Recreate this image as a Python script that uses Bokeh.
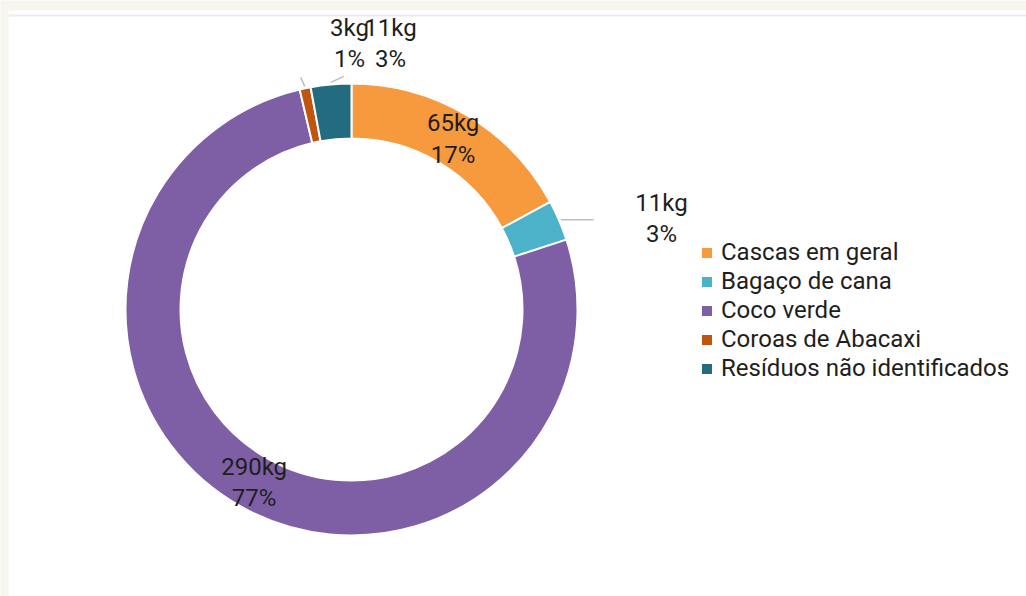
import numpy as np
from bokeh.plotting import figure
from bokeh.models import ColumnDataSource, Legend, LegendItem, Range1d
from bokeh.core.properties import value
from bokeh.embed import file_html
from bokeh.resources import INLINE

# ---- data ----
categories = ["Cascas em geral", "Bagaço de cana", "Coco verde",
              "Coroas de Abacaxi", "Resíduos não identificados"]
kg = [65, 11, 290, 3, 11]
kg_labels = ["65kg", "11kg", "290kg", "3kg", "11kg"]
pct_labels = ["17%", "3%", "77%", "1%", "3%"]
colors = ["#F79A3E", "#4BB2CA", "#7E5FA6", "#BF550F", "#236C80"]

W, H = 1026, 596
FONT = "Roboto"
FS = "24px"
TXT = "#1E1E1E"

def Y(y):  # image-style y (from top) to data y
    return H - y

cx, cy = 351, Y(309)
R_OUT, R_IN = 226, 171

vals = np.array(kg, dtype=float)
frac = vals / vals.sum()
cum = np.concatenate([[0], np.cumsum(frac)])
start = np.pi / 2 - 2 * np.pi * cum[:-1]
end = np.pi / 2 - 2 * np.pi * cum[1:]
mid = (start + end) / 2

p = figure(width=W, height=H, x_range=Range1d(0, W), y_range=Range1d(0, H),
           output_backend="svg", toolbar_location=None,
           x_axis_location=None, y_axis_location=None, min_border=0)
p.grid.visible = False
p.outline_line_color = None
p.background_fill_color = "#F6F5EE"
p.border_fill_color = "#F6F5EE"

# white card
p.quad(left=[8], right=[W], bottom=[0], top=[Y(10)], fill_color="white", line_color=None)
p.segment(x0=[8], x1=[W], y0=[Y(15)], y1=[Y(15)], line_color="#EBEBEB", line_width=2)

src = ColumnDataSource(dict(cat=categories, start=start, end=end, color=colors))
r = p.annular_wedge(x=cx, y=cy, inner_radius=R_IN, outer_radius=R_OUT,
                    start_angle="start", end_angle="end", direction="clock",
                    fill_color="color", line_color="white", line_width=2, source=src)

text_kw = dict(text_font=value(FONT), text_font_size=FS, text_color=TXT,
               text_align="center", text_baseline="middle", text_line_height=1.12)

# inside labels (large slices)
r_mid = (R_IN + R_OUT) / 2
lab_text = [f"{k}\n{pc}" for k, pc in zip(kg_labels, pct_labels)]
inside = [0, 2]
p.text(x=[cx + r_mid * np.cos(mid[i]) for i in inside],
       y=[cy + r_mid * np.sin(mid[i]) for i in inside],
       text=[lab_text[i] for i in inside], **text_kw)

# outside labels with leader lines
# Bagaço de cana: horizontal leader to the right
i = 1
x0 = cx + (R_OUT + 2) * np.cos(mid[i]); y0 = cy + (R_OUT + 2) * np.sin(mid[i])
p.segment(x0=[x0], y0=[y0], x1=[593], y1=[y0], line_color="#BDBDBD", line_width=1.5)
p.text(x=[661], y=[Y(218)], text=[lab_text[i]], **text_kw)

# Coroas / Resíduos: short leaders at the top
for i, (dx, dy) in zip([3, 4], [(-4, 9), (13, 6)]):
    x0 = cx + (R_OUT + 2) * np.cos(mid[i]); y0 = cy + (R_OUT + 2) * np.sin(mid[i])
    p.segment(x0=[x0], y0=[y0], x1=[x0 + dx], y1=[y0 + dy],
              line_color="#BDBDBD", line_width=1.5)
p.text(x=[349, 390], y=[Y(43), Y(43)], text=[lab_text[3], lab_text[4]], **text_kw)

ROWH, SP = 28, 1
legend = Legend(items=[LegendItem(label=c, renderers=[r], index=k) for k, c in enumerate(categories)],
                location=(699, H - (252 - ROWH / 2) - (5 * ROWH + 4 * SP)),
                glyph_width=15, glyph_height=15, label_height=20, label_standoff=7,
                spacing=SP, padding=0, margin=0, border_line_color=None,
                background_fill_alpha=0,
                label_text_font=FONT, label_text_font_size=FS, label_text_color=TXT)
p.add_layout(legend)

open("out.html", "w").write(file_html(p, INLINE))
